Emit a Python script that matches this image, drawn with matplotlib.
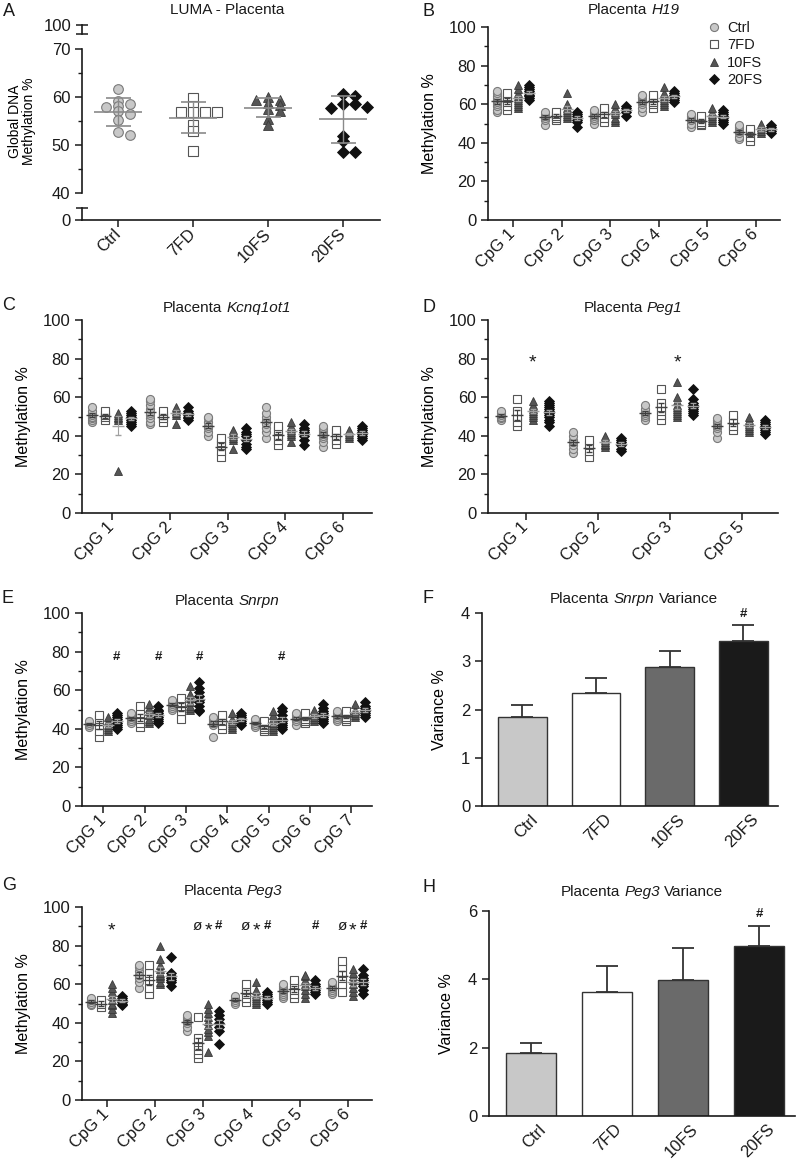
import numpy as np
import matplotlib.pyplot as plt
import matplotlib.transforms as mtransforms
from matplotlib.lines import Line2D
from matplotlib.offsetbox import TextArea, HPacker, AnchoredOffsetbox

plt.rcParams['font.family'] = ['Liberation Sans', 'DejaVu Sans']
plt.rcParams['text.color'] = '#1a1a1a'
plt.rcParams['axes.edgecolor'] = '#1a1a1a'
plt.rcParams['xtick.color'] = '#1a1a1a'
plt.rcParams['ytick.color'] = '#1a1a1a'

groups = ['Ctrl', '7FD', '10FS', '20FS']

# A - LUMA global methylation (one value per placenta)
luma_ctrl = [61.7, 59.2, 58.5, 58.2, 58.0, 57.0, 56.5, 55.2, 52.7, 52.0]
luma_7fd = [59.7, 58.2, 56.9, 56.8, 56.8, 56.9, 54.2, 53.0, 48.8]
luma_10fs = [59.9, 59.4, 59.4, 58.8, 58.4, 57.4, 57.0, 55.4, 54.1]
luma_20fs = [60.6, 60.3, 58.5, 58.5, 57.8, 58.0, 51.8, 50.8, 48.5, 48.5]

# B - H19
h19_cpg = ['CpG 1', 'CpG 2', 'CpG 3', 'CpG 4', 'CpG 5', 'CpG 6']
h19_ctrl = [[56, 57, 59, 60, 61, 62, 63, 64, 66, 67], [49, 52, 53, 54, 55, 56],
            [50, 52, 53, 54, 55, 56, 57], [56, 58, 60, 61, 62, 63, 64, 65],
            [48, 50, 52, 53, 54, 55], [42, 43, 45, 46, 47, 48, 49]]
h19_7fd = [[57, 59, 61, 63, 64, 66], [52, 53, 54, 55, 56], [51, 53, 55, 57, 58],
           [58, 60, 61, 63, 65], [49, 50, 51, 53, 54], [41, 43, 45, 46, 47]]
h19_10fs = [[58, 59, 60, 61, 62, 63, 64, 66, 68, 70], [53, 54, 55, 56, 57, 58, 60, 66],
            [51, 52, 53, 55, 56, 57, 58, 60], [59, 60, 61, 62, 63, 64, 66, 69],
            [51, 52, 53, 54, 55, 56, 58], [45, 46, 47, 48, 50]]
h19_20fs = [[62, 63, 64, 65, 66, 67, 68, 69, 70], [48, 51, 52, 53, 54, 55, 56],
            [54, 56, 57, 58, 59], [61, 62, 63, 64, 65, 66, 67],
            [50, 51, 52, 53, 54, 55, 56, 57], [45, 46, 47, 48, 49]]

# C - Kcnq1ot1
kcnq_cpg = ['CpG 1', 'CpG 2', 'CpG 3', 'CpG 4', 'CpG 6']
kcnq_ctrl = [[47, 48, 49, 50, 51, 52, 53, 55], [46, 47, 49, 51, 52, 54, 56, 58, 59],
             [40, 42, 44, 45, 47, 49, 50], [39, 42, 44, 46, 48, 50, 52, 55],
             [34, 37, 39, 40, 41, 42, 43, 44, 45]]
kcnq_7fd = [[48, 50, 51, 53], [47, 49, 51, 53], [29, 32, 35, 37, 39],
            [35, 38, 40, 43, 45], [36, 38, 40, 42, 43]]
kcnq_10fs = [[22, 48, 49, 50, 51, 52], [46, 51, 52, 53, 54, 55], [33, 38, 39, 40, 41, 42, 43],
             [37, 40, 41, 42, 43, 44, 45, 47], [39, 40, 41, 42, 43]]
kcnq_20fs = [[45, 46, 47, 48, 49, 50, 51, 52, 53], [48, 49, 50, 51, 52, 53, 55],
             [33, 34, 36, 38, 40, 41, 42, 44], [35, 38, 40, 41, 42, 43, 44, 46],
             [38, 39, 40, 41, 42, 43, 44, 45]]

# D - Peg1
peg1_cpg = ['CpG 1', 'CpG 2', 'CpG 3', 'CpG 5']
peg1_ctrl = [[48, 49, 50, 51, 52, 53], [31, 33, 35, 37, 38, 40, 42],
             [48, 50, 51, 52, 53, 54, 56], [39, 42, 44, 45, 46, 47, 48, 49]]
peg1_7fd = [[45, 47, 50, 53, 59], [29, 32, 35, 38], [48, 51, 53, 55, 57, 64], [43, 45, 48, 51]]
peg1_10fs = [[48, 50, 51, 52, 53, 54, 55, 56, 58], [34, 35, 36, 37, 38, 39, 40],
             [50, 51, 52, 53, 54, 55, 56, 58, 60, 68], [42, 43, 44, 45, 46, 47, 48, 50]]
peg1_20fs = [[45, 47, 48, 50, 51, 52, 53, 54, 55, 56, 57, 58], [32, 33, 35, 36, 37, 38, 39],
             [51, 52, 53, 54, 55, 56, 57, 59, 64], [41, 42, 43, 44, 45, 46, 47, 48]]
peg1_marks = [(0, 2, '*'), (2, 2, '*')]

# E - Snrpn
snrpn_cpg = ['CpG 1', 'CpG 2', 'CpG 3', 'CpG 4', 'CpG 5', 'CpG 6', 'CpG 7']
snrpn_ctrl = [[41, 42, 43, 44], [43, 44, 45, 46, 47, 48], [50, 51, 52, 53, 54, 55],
              [36, 42, 43, 44, 45, 46], [41, 42, 43, 44, 45], [42, 44, 45, 46, 47, 48],
              [44, 45, 46, 47, 48, 49]]
snrpn_7fd = [[36, 39, 42, 45, 47], [41, 43, 45, 48, 52], [45, 49, 52, 54, 56],
             [40, 42, 44, 46, 47], [39, 40, 41, 42, 44], [43, 44, 45, 47, 48],
             [44, 45, 46, 48, 49]]
snrpn_10fs = [[39, 40, 41, 42, 44, 46], [43, 44, 45, 47, 49, 51, 53], [50, 51, 52, 54, 56, 58, 62],
              [40, 41, 42, 43, 44, 45, 48], [39, 40, 41, 42, 43, 45, 47, 49],
              [44, 45, 46, 47, 48, 50], [46, 47, 48, 49, 50, 53]]
snrpn_20fs = [[40, 41, 42, 43, 44, 45, 46, 47, 48], [43, 44, 45, 46, 47, 48, 49, 50, 52],
              [49, 50, 52, 54, 55, 57, 59, 61, 64], [42, 43, 44, 45, 46, 47, 48],
              [40, 41, 42, 43, 44, 45, 47, 49, 51], [43, 44, 45, 46, 47, 48, 49, 51, 53],
              [46, 47, 48, 49, 50, 51, 52, 54]]
snrpn_marks = [(0, 3, '#'), (1, 3, '#'), (2, 3, '#'), (4, 3, '#')]

# G - Peg3
peg3_cpg = ['CpG 1', 'CpG 2', 'CpG 3', 'CpG 4', 'CpG 5', 'CpG 6']
peg3_ctrl = [[49, 50, 51, 52, 53], [58, 61, 63, 65, 67, 69, 70], [36, 38, 40, 41, 42, 43, 44],
             [50, 51, 52, 53, 54], [53, 54, 55, 56, 57, 58, 59, 60], [55, 56, 57, 58, 59, 60, 61]]
peg3_7fd = [[48, 50, 52], [55, 58, 62, 66, 70], [22, 24, 26, 28, 30, 32, 43],
            [51, 53, 55, 57, 60], [53, 55, 57, 60, 62], [56, 60, 63, 66, 69, 72]]
peg3_10fs = [[45, 47, 49, 50, 52, 54, 56, 58, 60], [60, 61, 63, 64, 65, 66, 68, 70, 73, 80],
             [25, 33, 35, 37, 39, 41, 43, 45, 47, 50], [50, 51, 52, 53, 54, 55, 57, 61],
             [53, 55, 57, 59, 60, 62, 64, 65], [54, 56, 58, 60, 62, 64, 66, 68]]
peg3_20fs = [[49, 50, 51, 52, 53, 54], [59, 61, 62, 63, 64, 66, 74], [29, 36, 38, 40, 42, 44, 46],
             [50, 51, 52, 53, 54, 55, 56], [55, 56, 57, 58, 59, 60, 62], [55, 57, 59, 60, 62, 63, 65, 68]]
peg3_marks = [(0, 2, '*'), (2, 1, 'ø'), (2, 2, '*'), (2, 3, '#'), (3, 1, 'ø'), (3, 2, '*'),
              (3, 3, '#'), (4, 3, '#'), (5, 1, 'ø'), (5, 2, '*'), (5, 3, '#')]

# F / H - variance bars (mean, SEM)
snrpn_var = [1.84, 2.35, 2.88, 3.42]
snrpn_var_sem = [0.26, 0.30, 0.33, 0.33]
peg3_var = [1.84, 3.62, 3.99, 4.97]
peg3_var_sem = [0.30, 0.76, 0.93, 0.59]

W, H = 797, 1164
fig = plt.figure(figsize=(W / 100, H / 100), dpi=100)


def box(x0, x1, y0, y1):
    return [x0 / W, 1 - y1 / H, (x1 - x0) / W, (y1 - y0) / H]


styles = [dict(marker='o', mfc='#c8c8c8', mec='#7a7a7a', mew=0.8, ms=5.8),
          dict(marker='s', mfc='white', mec='#555555', mew=0.8, ms=5.8),
          dict(marker='^', mfc='#555555', mec='#3a3a3a', mew=0.6, ms=6.4),
          dict(marker='D', mfc='#111111', mec='#111111', mew=0.6, ms=4.8)]
line_cols = ['#404040', '#404040', '#a0a0a0', '#a0a0a0']
bar_cols = ['#c8c8c8', '#ffffff', '#6a6a6a', '#1a1a1a']
offsets = [-0.34, -0.12, 0.1, 0.32]


def title_at(xc, yc, parts, size=11):
    kids = [TextArea(t, textprops=dict(fontsize=size, fontstyle='italic' if it else 'normal',
                                       color='#1a1a1a'))
            for t, it in parts]
    pack = HPacker(children=kids, pad=0, sep=3, align='baseline')
    ab = AnchoredOffsetbox(loc='center', child=pack, pad=0, borderpad=0, frameon=False,
                           bbox_to_anchor=(xc / W, 1 - yc / H), bbox_transform=fig.transFigure)
    fig.add_artist(ab)


def style_axis(ax):
    for s in ['top', 'right']:
        ax.spines[s].set_visible(False)
    ax.spines['left'].set_linewidth(1.2)
    ax.spines['bottom'].set_linewidth(1.2)
    ax.tick_params(axis='both', which='major', labelsize=12, length=5, width=1.1)
    ax.tick_params(axis='both', which='minor', length=3, width=1.0)


def cpg_panel(pos, data, cpgs, marks=None, mark_y=None):
    ax = fig.add_axes(box(*pos))
    for s, series in enumerate(data):
        for i, vals in enumerate(series):
            x = i + offsets[s]
            ax.plot([x] * len(vals), vals, ls='none', zorder=2 + s, **styles[s])
            m = np.mean(vals)
            sem = np.std(vals, ddof=1) / np.sqrt(len(vals))
            ax.errorbar(x, m, yerr=sem, fmt='_', ms=8, mew=1.0, capsize=2.2,
                        elinewidth=0.8, capthick=0.8, color=line_cols[s], zorder=10)
    ax.set_xlim(-0.52, len(cpgs) - 0.5)
    ax.set_ylim(0, 100)
    ax.set_yticks(range(0, 101, 20))
    ax.set_yticks(range(10, 100, 20), minor=True)
    ax.set_xticks(range(len(cpgs)))
    ax.set_xticklabels(cpgs, rotation=45, ha='right', va='center', rotation_mode='anchor')
    ax.set_ylabel('Methylation %', fontsize=11.5, labelpad=8)
    style_axis(ax)
    if marks:
        for i, s, sym in marks:
            if sym == '*':
                ax.text(i + offsets[s], mark_y - 2.5, sym, ha='center', va='center', fontsize=14)
            elif sym == '#':
                ax.text(i + offsets[s], mark_y, sym, ha='center', va='center', fontsize=9.5,
                        fontweight='bold')
            else:
                ax.text(i + offsets[s], mark_y, sym, ha='center', va='center', fontsize=11)
    return ax


def bar_panel(pos, vals, sems, ymax, ystep):
    ax = fig.add_axes(box(*pos))
    x = np.arange(len(groups))
    ax.bar(x, vals, width=0.66, color=bar_cols, edgecolor='#333333', linewidth=1.0, zorder=2)
    ax.errorbar(x, vals, yerr=[np.zeros(len(vals)), sems], fmt='none', ecolor='#333333',
                elinewidth=1.3, capsize=8, capthick=1.3, zorder=1)
    ax.annotate('#', (x[3], vals[3] + sems[3]), xytext=(0, 4), textcoords='offset points',
                ha='center', va='bottom', fontsize=9.5, fontweight='bold')
    ax.set_xlim(-0.55, 3.47)
    ax.set_ylim(0, ymax)
    ax.set_yticks(np.arange(0, ymax + 0.01, ystep))
    ax.set_xticks(x)
    ax.set_xticklabels([])
    # category labels sit a little right of the bar centres, as in the original
    trans = ax.get_xaxis_transform() + mtransforms.ScaledTranslation(9 / 72, -8 / 72,
                                                                     fig.dpi_scale_trans)
    for xi, g in zip(x, groups):
        ax.text(xi, 0, g, transform=trans, rotation=45, ha='right', va='center',
                rotation_mode='anchor', fontsize=12)
    ax.set_ylabel('Variance %', fontsize=11.5, labelpad=10)
    style_axis(ax)
    ax.tick_params(axis='x', length=0)
    return ax


# ---- A: LUMA with broken y axis ----
def swarm(vals, dx, dy):
    placed, out = [], []
    for v in vals:
        for k in [0, 1, -1, 2, -2, 3, -3, 4, -4]:
            xo = k * dx
            if all(((xo - px) / dx) ** 2 + ((v - pv) / dy) ** 2 >= 0.95 for px, pv in placed):
                break
        placed.append((xo, v))
        out.append(xo)
    return np.array(out)


luma = [luma_ctrl, luma_7fd, luma_10fs, luma_20fs]
axA = fig.add_axes(box(82, 380, 49, 193))
axA_top = fig.add_axes(box(82, 380, 25, 34))
axA_bot = fig.add_axes(box(82, 380, 208, 220))
for s, vals in enumerate(luma):
    xo = swarm(vals, 0.16, 0.75)
    st = dict(styles[s])
    st['ms'] = st['ms'] * 1.2
    axA.plot(s + xo, vals, ls='none', zorder=2, **st)
    m = np.mean(vals)
    sd = np.std(vals, ddof=1)
    axA.errorbar(s, m, yerr=sd, fmt='_', ms=34, mew=1.2, capsize=9, elinewidth=1.0,
                 capthick=1.2, color='#8a8a8a', zorder=5)
for ax in [axA, axA_top, axA_bot]:
    ax.set_xlim(-0.48, 3.49)
    style_axis(ax)
    ax.patch.set_alpha(0)
axA.set_ylim(40, 70)
axA.set_yticks([40, 50, 60, 70])
axA.set_yticks([45, 55, 65], minor=True)
axA.spines['bottom'].set_visible(False)
axA.set_xticks([])
axA.set_ylabel('Global DNA\nMethylation %', fontsize=10, linespacing=0.95)
axA.yaxis.set_label_coords(-0.155, 0.5)
axA_top.set_ylim(0, 1)
axA_top.set_yticks([0, 1])
axA_top.set_yticklabels(['', '100'])
axA_top.tick_params(axis='y', direction='inout', length=8)
axA_top.spines['bottom'].set_visible(False)
axA_top.set_xticks([])
axA_bot.set_ylim(0, 1)
axA_bot.set_yticks([0])
axA_bot.set_yticklabels(['0'])
axA_bot.plot([0], [1], marker='_', ms=8, mew=1.1, color='#1a1a1a', transform=axA_bot.transAxes,
             clip_on=False)
axA_bot.set_xticks(range(4))
axA_bot.set_xticklabels(groups, rotation=45, ha='right', va='center', rotation_mode='anchor')

# ---- B-H ----
axB = cpg_panel((488, 780, 27, 220), [h19_ctrl, h19_7fd, h19_10fs, h19_20fs], h19_cpg)
handles = [Line2D([], [], ls='none', **st) for st in styles]
axB.legend(handles, groups, loc='upper right', bbox_to_anchor=(0.96, 1.06), frameon=False,
           fontsize=10.5, handletextpad=0.3, labelspacing=0.22, borderaxespad=0, handlelength=1.2)

cpg_panel((82, 372, 320, 513), [kcnq_ctrl, kcnq_7fd, kcnq_10fs, kcnq_20fs], kcnq_cpg)
cpg_panel((488, 778, 320, 513), [peg1_ctrl, peg1_7fd, peg1_10fs, peg1_20fs], peg1_cpg,
          peg1_marks, 80)
cpg_panel((82, 372, 613, 806), [snrpn_ctrl, snrpn_7fd, snrpn_10fs, snrpn_20fs], snrpn_cpg,
          snrpn_marks, 77)
bar_panel((482, 778, 613, 806), snrpn_var, snrpn_var_sem, 4, 1)
cpg_panel((82, 372, 907, 1100), [peg3_ctrl, peg3_7fd, peg3_10fs, peg3_20fs], peg3_cpg,
          peg3_marks, 90)
bar_panel((489, 795, 911, 1116), peg3_var, peg3_var_sem, 6, 2)

# titles
title_at(227, 10, [('LUMA - Placenta', False)])
title_at(634, 10, [('Placenta', False), ('H19', True)])
title_at(227, 308, [('Placenta', False), ('Kcnq1ot1', True)])
title_at(633, 308, [('Placenta', False), ('Peg1', True)])
title_at(227, 601, [('Placenta', False), ('Snrpn', True)])
title_at(634, 599, [('Placenta', False), ('Snrpn', True), ('Variance', False)])
title_at(233, 891, [('Placenta', False), ('Peg3', True)])
title_at(642, 892, [('Placenta', False), ('Peg3', True), ('Variance', False)])

# panel letters
for lab, x, y in [('A', 9, 12), ('B', 429, 12), ('C', 9, 306), ('D', 429, 307),
                  ('E', 8, 599), ('F', 428, 599), ('G', 9, 886), ('H', 429, 888)]:
    fig.text(x / W, 1 - y / H, lab, fontsize=13, ha='center', va='center')

fig.savefig('out.png', dpi=100)
